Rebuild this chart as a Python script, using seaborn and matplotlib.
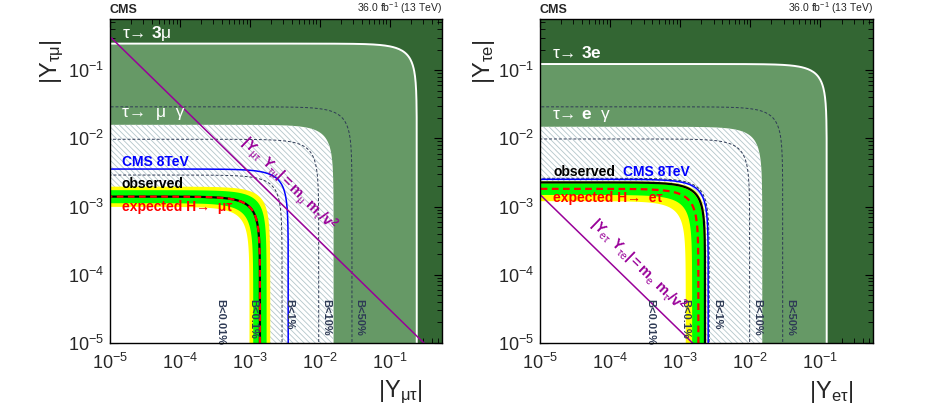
import numpy as np
import pandas as pd
import matplotlib
matplotlib.use("Agg")
import matplotlib.pyplot as plt
from matplotlib.ticker import LogLocator, NullFormatter, LogFormatterSciNotation
import seaborn as sns

# ---------------- data (radii of |Y1|^2+|Y2|^2 < r^2 contours) ----------------
b_labels = ["B<0.01%", "B<0.1%", "B<1%", "B<10%", "B<50%"]

mt_r_tau3l = 0.245          # tau -> 3mu
mt_r_taulg = 0.0158         # tau -> mu gamma
mt_obs = 0.00140
mt_exp = 0.00140
mt_1s = [0.00112, 0.00174]
mt_2s = [0.00099, 0.00196]
mt_8tev = 0.00355
mt_b = [0.00029, 0.00088, 0.0029, 0.0097, 0.029]
mt_prod = 3.1e-6            # m_mu m_tau / v^2

et_r_tau3l = 0.123          # tau -> 3e
et_r_taulg = 0.0148         # tau -> e gamma
et_obs = 0.00226
et_exp = 0.00182
et_1s = [0.00148, 0.00219]
et_2s = [0.00120, 0.00236]
et_8tev = 0.00251
et_b = [0.000295, 0.00091, 0.0026, 0.0098, 0.029]
et_prod = 1.5e-8            # m_e m_tau / v^2

ticks = [1e-5, 1e-4, 1e-3, 1e-2, 1e-1]

# ---------------- style ----------------
sns.set_style("ticks")
plt.rcParams["font.family"] = ["Liberation Sans", "DejaVu Sans"]
plt.rcParams["mathtext.fontset"] = "custom"
plt.rcParams["mathtext.rm"] = "Liberation Sans"
plt.rcParams["mathtext.it"] = "Liberation Sans"
plt.rcParams["mathtext.bf"] = "Liberation Sans:bold"
plt.rcParams["mathtext.sf"] = "Liberation Sans"
plt.rcParams["hatch.linewidth"] = 0.6

DARK = "#336633"
LIGHT = "#669966"
HATCH = "#b3c6ca"
BCOL = "#2e3a55"
PURPLE = "#990099"
LO, HI = 1e-5, 10 ** -0.25


def circle(r, n=300):
    t = np.geomspace(1e-8 / r, np.pi / 4, n)
    th = np.concatenate([t, np.pi / 2 - t[::-1]])
    return pd.DataFrame({"x": r * np.cos(th), "y": r * np.sin(th)})


def disk(ax, r, **kw):
    c = circle(r)
    xs = np.concatenate([c.x.values, [1e-9]])
    ys = np.concatenate([c.y.values, [1e-9]])
    ax.fill(xs, ys, **kw)


def line(ax, r, **kw):
    sns.lineplot(data=circle(r), x="x", y="y", sort=False, estimator=None,
                 ax=ax, legend=False, **kw)


fig = plt.figure(figsize=(9.45, 4.09), dpi=100)
axL = fig.add_axes([110 / 945, 66 / 409, 332 / 945, 324 / 409])
axR = fig.add_axes([540 / 945, 66 / 409, 333 / 945, 324 / 409])

panels = [
    dict(ax=axL, r3=mt_r_tau3l, rg=mt_r_taulg, obs=mt_obs, exp=mt_exp, s1=mt_1s, s2=mt_2s,
         r8=mt_8tev, b=mt_b, prod=mt_prod,
         lab=r"$\mathbf{|Y}_{\mu\tau}\ \mathbf{Y}_{\tau\mu}\mathbf{|=m}_{\mu}\ \mathbf{m}_{\tau}\mathbf{/v}^{\mathbf{2}}$",
         labx=10 ** -2.45, laboff=10 ** 0.39,
         t3="τ→ $\\mathbf{3}$μ", tg="τ→  μ  γ",
         exptxt="expected H→  μτ",
         xl=r"$|\mathrm{Y}_{\mu\tau}|$", yl=r"$|\mathrm{Y}_{\tau\mu}|$"),
    dict(ax=axR, r3=et_r_tau3l, rg=et_r_taulg, obs=et_obs, exp=et_exp, s1=et_1s, s2=et_2s,
         r8=et_8tev, b=et_b, prod=et_prod,
         lab=r"$\mathbf{|Y}_{e\tau}\ \mathbf{Y}_{\tau e}\mathbf{|=m}_{e}\ \mathbf{m}_{\tau}\mathbf{/v}^{\mathbf{2}}$",
         labx=10 ** -3.6, laboff=10 ** 0.37,
         t3="τ→ $\\mathbf{3e}$", tg="τ→ $\\mathbf{e}$  γ",
         exptxt="expected H→  eτ",
         xl=r"$|\mathrm{Y}_{e\tau}|$", yl=r"$|\mathrm{Y}_{\tau e}|$"),
]

for i, p in enumerate(panels):
    ax = p["ax"]
    ax.set_xscale("log")
    ax.set_yscale("log")
    ax.set_xlim(LO, HI)
    ax.set_ylim(LO, HI)
    ax.set_facecolor(DARK)

    disk(ax, p["r3"], facecolor=LIGHT, edgecolor="none", zorder=1)
    line(ax, p["r3"], color="white", lw=1.4, zorder=2)
    disk(ax, p["rg"], facecolor="white", edgecolor=HATCH, lw=0, hatch="\\\\\\\\\\\\", zorder=3)
    disk(ax, p["s2"][1], facecolor="#ffff00", edgecolor="none", zorder=4)
    disk(ax, p["s1"][1], facecolor="#00ff00", edgecolor="none", zorder=4)
    disk(ax, p["s1"][0], facecolor="#ffff00", edgecolor="none", zorder=4)
    disk(ax, p["s2"][0], facecolor="white", edgecolor="none", zorder=4)

    for r, t in zip(p["b"], b_labels):
        line(ax, r, color=BCOL, lw=0.7, linestyle=(0, (3, 2)), zorder=3.5)
        ax.text(r * 1.09, 10 ** -4.36, t, rotation=270, ha="left", va="top",
                fontsize=8, fontweight="bold", color=BCOL, zorder=6)

    line(ax, p["obs"], color="black", lw=1.6, zorder=5)
    line(ax, p["exp"], color="red", lw=1.6, linestyle=(0, (3, 2)), zorder=5.1)
    line(ax, p["r8"], color="#0000ff", lw=1.1, zorder=5)

    xs = np.geomspace(1e-6, 1.0, 50)
    sns.lineplot(x=xs, y=p["prod"] / xs, ax=ax, color=PURPLE, lw=1.1, zorder=5.5,
                 sort=False, estimator=None, legend=False)
    ax.set_xlim(LO, HI)
    ax.set_ylim(LO, HI)
    p1 = ax.transData.transform((1e-4, p["prod"] / 1e-4))
    p2 = ax.transData.transform((1e-3, p["prod"] / 1e-3))
    ang = np.degrees(np.arctan2(p2[1] - p1[1], p2[0] - p1[0]))
    ax.text(p["labx"], p["prod"] / p["labx"] * p["laboff"], p["lab"], rotation=ang,
            rotation_mode="anchor", ha="center", va="center", fontsize=10.5,
            color=PURPLE, zorder=6)

    # texts
    ax.text(0.036, 0.955 if i == 0 else 0.895, p["t3"], transform=ax.transAxes,
            color="white", fontsize=12.5, va="center", ha="left", zorder=7)
    ax.text(0.036, 0.71 if i == 0 else 0.70, p["tg"], transform=ax.transAxes,
            color="white", fontsize=12.5, va="center", ha="left", zorder=7)
    if i == 0:
        ax.text(0.036, 0.559, "CMS 8TeV", transform=ax.transAxes, color="#0000ff",
                fontsize=10, fontweight="bold", va="center", zorder=7)
        ax.text(0.036, 0.491, "observed", transform=ax.transAxes, color="black",
                fontsize=10, fontweight="bold", va="center", zorder=7)
        ax.text(0.036, 0.42, p["exptxt"], transform=ax.transAxes, color="red",
                fontsize=10, fontweight="bold", va="center", zorder=7)
    else:
        ax.text(0.04, 0.528, "observed", transform=ax.transAxes, color="black",
                fontsize=10, fontweight="bold", va="center", zorder=7)
        ax.text(0.25, 0.528, "CMS 8TeV", transform=ax.transAxes, color="#0000ff",
                fontsize=10, fontweight="bold", va="center", zorder=7)
        ax.text(0.04, 0.448, p["exptxt"], transform=ax.transAxes, color="red",
                fontsize=10, fontweight="bold", va="center", zorder=7)

    ax.text(0.0, 1.008, "CMS", transform=ax.transAxes, fontsize=9, fontweight="bold",
            ha="left", va="bottom")
    ax.text(1.0, 1.008, r"36.0 fb$^{-1}$ (13 TeV)", transform=ax.transAxes, fontsize=7.5,
            ha="right", va="bottom")

    ax.set_xticks(ticks)
    ax.set_yticks(ticks)
    ax.xaxis.set_major_formatter(LogFormatterSciNotation())
    ax.yaxis.set_major_formatter(LogFormatterSciNotation())
    for a in (ax.xaxis, ax.yaxis):
        a.set_minor_locator(LogLocator(base=10, subs=np.arange(2, 10), numticks=100))
        a.set_minor_formatter(NullFormatter())
    ax.tick_params(which="both", direction="in", top=True, right=True, color="black")
    ax.tick_params(which="major", length=6, width=0.8, labelsize=13)
    ax.tick_params(which="minor", length=3.5, width=0.6)
    ax.tick_params(axis="x", which="major", pad=7)
    ax.tick_params(axis="y", which="major", pad=4)
    ax.set_xlabel("")
    ax.set_ylabel("")
    for s in ax.spines.values():
        s.set_color("black")
        s.set_linewidth(1.0)
        s.set_zorder(10)

fig.text(400 / 945, 1 - 392 / 409, panels[0]["xl"], fontsize=17, ha="center", va="center")
fig.text(831 / 945, 1 - 392 / 409, panels[1]["xl"], fontsize=17, ha="center", va="center")
fig.text(52 / 945, 1 - 62 / 409, panels[0]["yl"], fontsize=17, ha="center", va="center", rotation=90)
fig.text(484 / 945, 1 - 62 / 409, panels[1]["yl"], fontsize=17, ha="center", va="center", rotation=90)

fig.savefig("out.png", dpi=100)
